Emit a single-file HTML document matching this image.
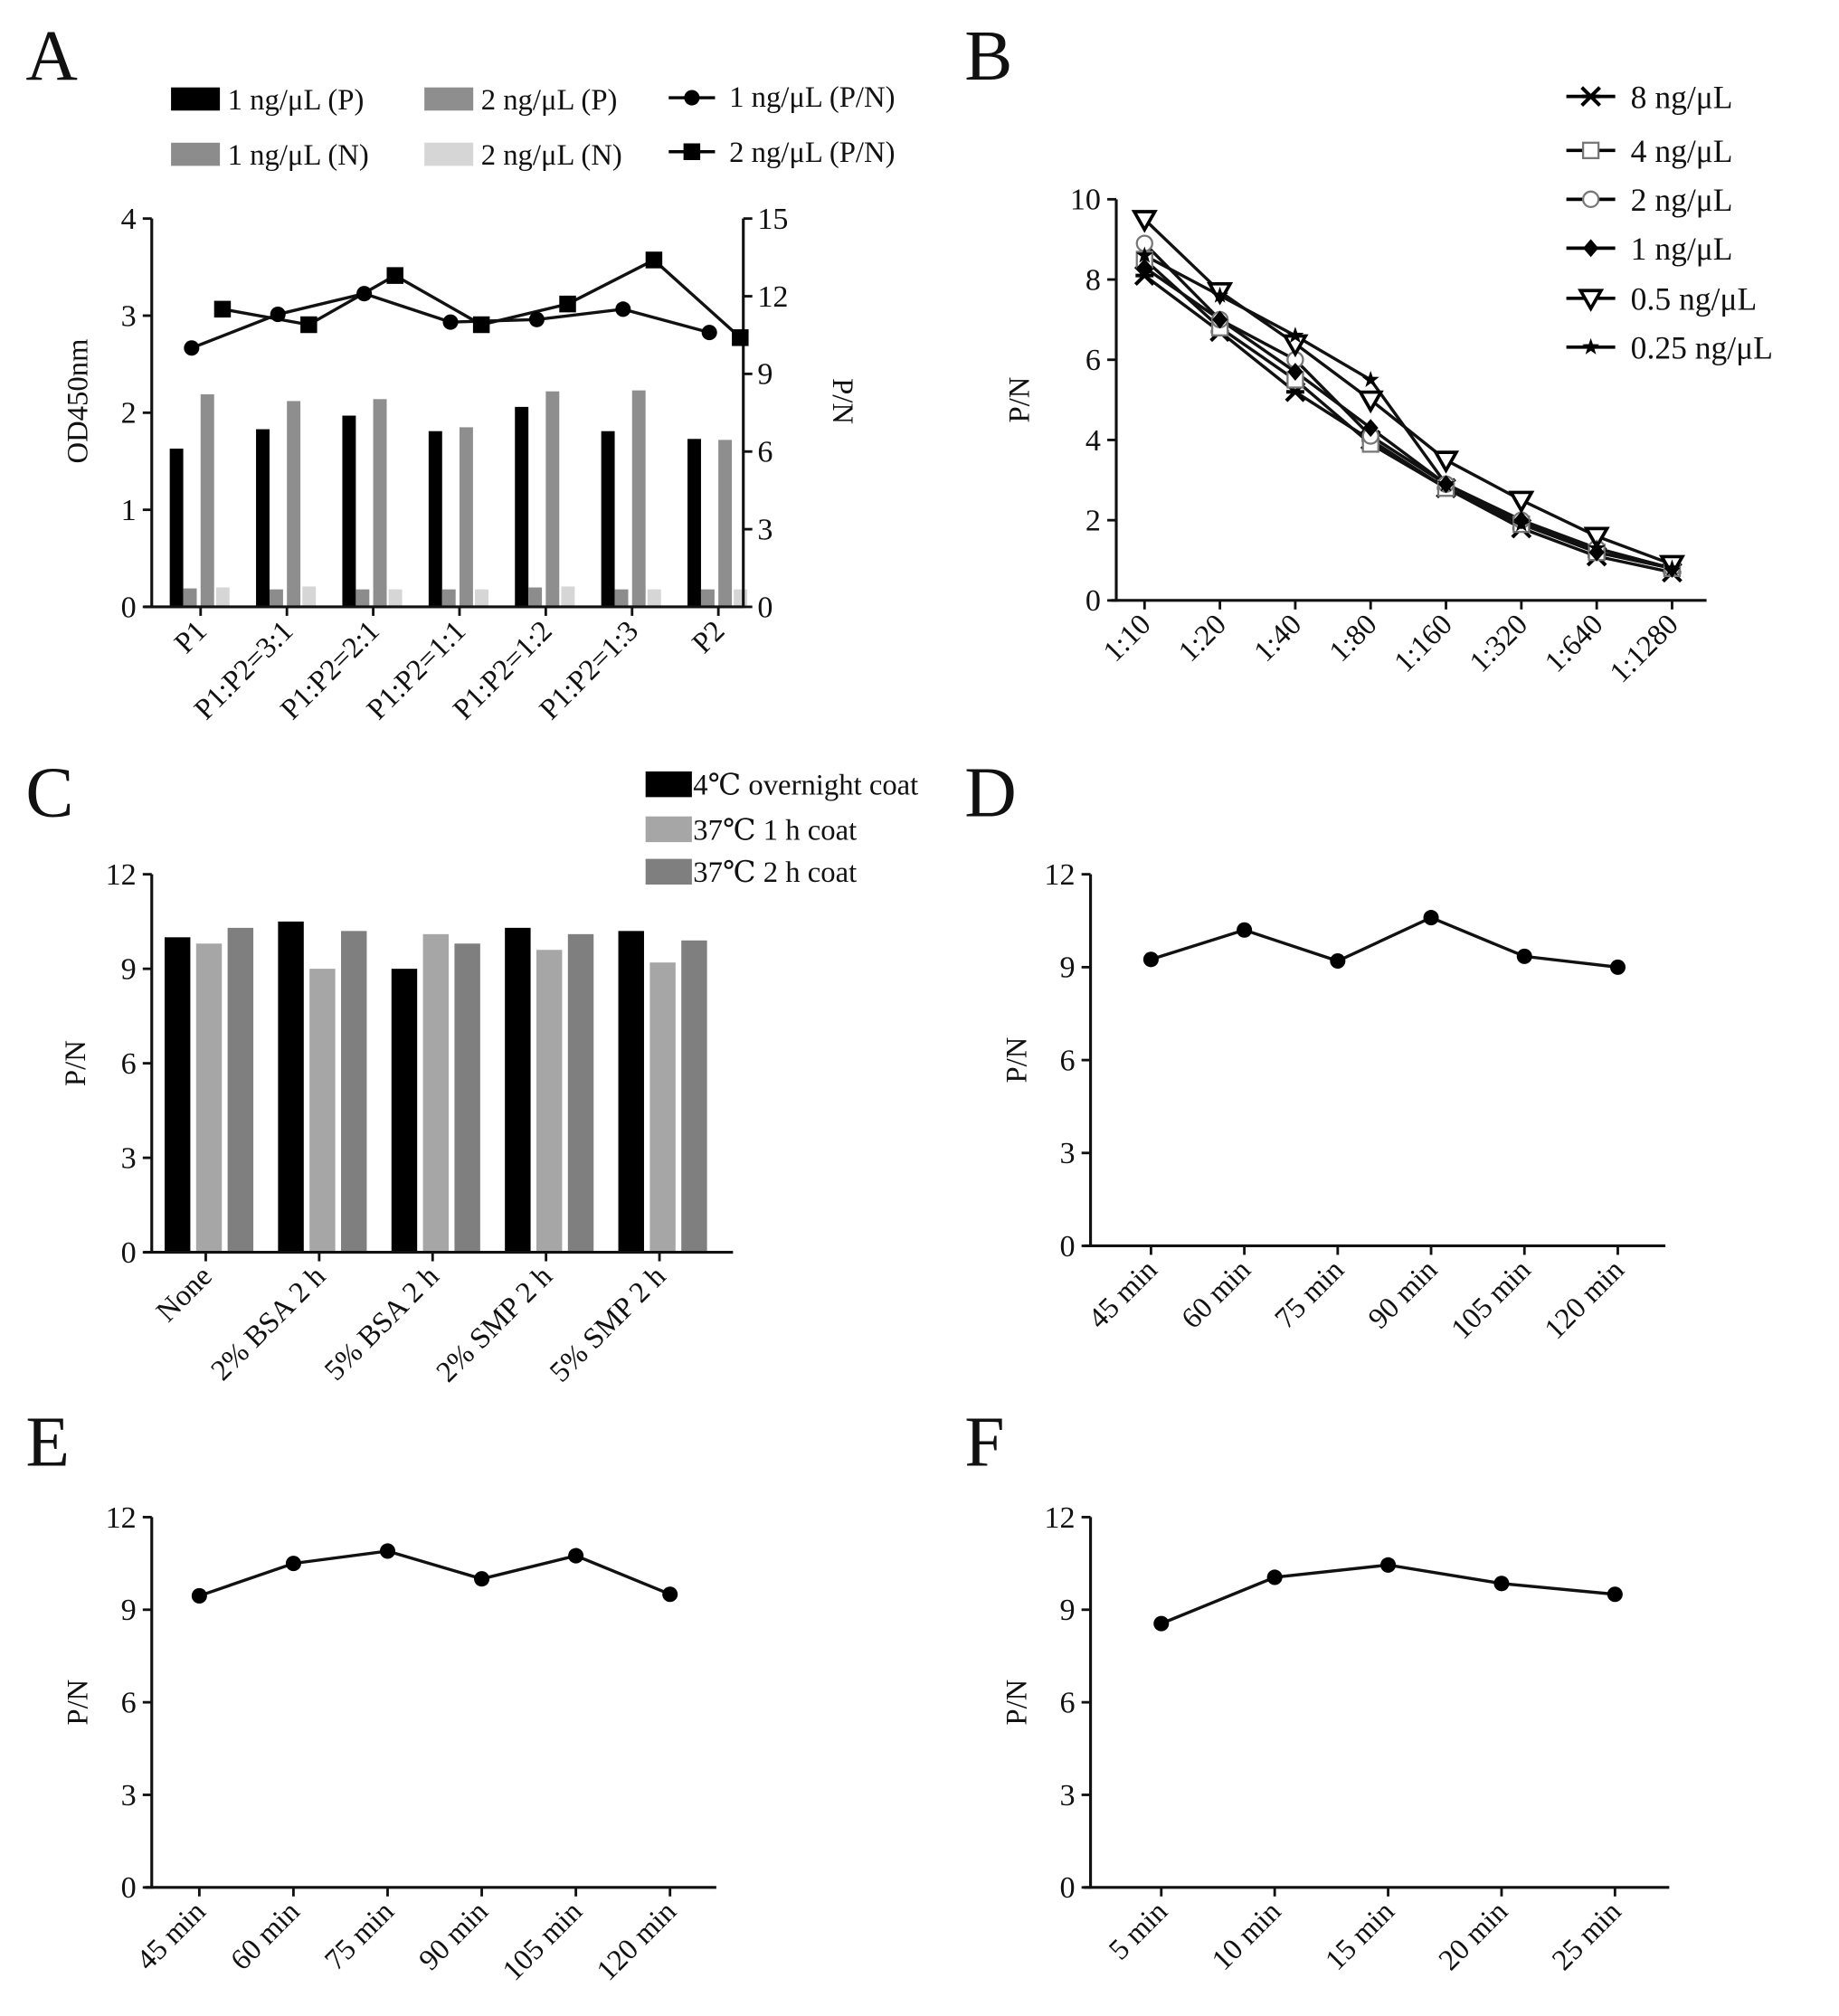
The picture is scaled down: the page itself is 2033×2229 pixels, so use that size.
<!DOCTYPE html>
<html><head><meta charset="utf-8"><style>
html,body{margin:0;padding:0;background:#fff}
svg{display:block}
text{font-family:"Liberation Serif","DejaVu Serif",serif;fill:#111}
</style></head><body>
<svg id="fig" xmlns="http://www.w3.org/2000/svg" width="2033" height="2229" viewBox="0 0 1430 1568" preserveAspectRatio="none">
<rect width="1440" height="1580" fill="#fff"/>
<g font-size="56"><text x="20" y="62">A</text>
<text x="750" y="62">B</text>
<text x="20" y="635">C</text>
<text x="750" y="635">D</text>
<text x="20" y="1140">E</text>
<text x="750" y="1140">F</text></g>
</svg>
<script>
// ---- Panel A data
const aCats=["P1","P1:P2=3:1","P1:P2=2:1","P1:P2=1:1","P1:P2=1:2","P1:P2=1:3","P2"];
const aP1=[1.63,1.83,1.97,1.81,2.06,1.81,1.73];
const aN1=[0.19,0.18,0.18,0.18,0.2,0.18,0.18];
const aP2=[2.19,2.12,2.14,1.85,2.22,2.23,1.72];
const aN2=[0.2,0.21,0.18,0.18,0.21,0.18,0.18];
const aPN1=[10.0,11.3,12.1,11.0,11.1,11.5,10.6];
const aPN2=[11.5,10.9,12.8,10.9,11.7,13.4,10.4];
const aLeftTicks=[0,1,2,3,4];
const aRightTicks=[0,3,6,9,12,15];
// ---- Panel B data
const bCats=["1:10","1:20","1:40","1:80","1:160","1:320","1:640","1:1280"];
const bNames=["8 ng/μL","4 ng/μL","2 ng/μL","1 ng/μL","0.5 ng/μL","0.25 ng/μL"];
const b8=[8.1,6.7,5.2,4.0,2.8,1.8,1.1,0.7];
const b4=[8.5,6.8,5.5,3.9,2.8,1.9,1.2,0.8];
const b2=[8.9,7.0,6.0,4.1,2.9,2.0,1.3,0.8];
const b1=[8.3,7.0,5.7,4.3,2.9,2.0,1.2,0.8];
const b05=[9.5,7.7,6.4,5.0,3.5,2.5,1.6,0.9];
const b025=[8.6,7.6,6.6,5.5,2.9,1.9,1.3,0.8];
const bTicks=[0,2,4,6,8,10];
// ---- Panel C data
const cCats=["None","2% BSA 2 h","5% BSA 2 h","2% SMP 2 h","5% SMP 2 h"];
const cNames=["4℃ overnight coat","37℃ 1 h coat","37℃ 2 h coat"];
const c4=[10.0,10.5,9.0,10.3,10.2];
const c37a=[9.8,9.0,10.1,9.6,9.2];
const c37b=[10.3,10.2,9.8,10.1,9.9];
const pnTicks=[0,3,6,9,12];
// ---- Panels D/E/F data
const dCats=["45 min","60 min","75 min","90 min","105 min","120 min"];
const dVals=[9.25,10.2,9.2,10.6,9.35,9.0];
const eCats=["45 min","60 min","75 min","90 min","105 min","120 min"];
const eVals=[9.45,10.5,10.9,10.0,10.75,9.5];
const fCats=["5 min","10 min","15 min","20 min","25 min"];
const fVals=[8.55,10.05,10.45,9.85,9.5];

const NS="http://www.w3.org/2000/svg";
const svg=document.getElementById('fig');
function mk(tag,attrs,name,parent,txt){
  const e=document.createElementNS(NS,tag);
  for(const k in attrs)e.setAttribute(k,attrs[k]);
  
  
  if(txt!==undefined)e.textContent=txt;
  (parent||svg).appendChild(e);return e;
}
function lin(d0,d1,r0,r1){return v=>r0+(v-d0)/(d1-d0)*(r1-r0);}
function yAxis(x,y0,y1,ticks,sc,pre,right){
  mk('line',{x1:x,y1:y0+1,x2:x,y2:y1,stroke:'#111','stroke-width':2.2},pre+'-axis-line');
  ticks.forEach(t=>{const y=sc(t);
    mk('line',{x1:right?x:x-7,y1:y,x2:right?x+7:x,y2:y,stroke:'#111','stroke-width':2},pre+'-tick');
    mk('text',{x:right?x+11:x-12,y:y+8,'font-size':24,'text-anchor':right?'start':'end'},pre+'-tick-label',null,String(t));});
}
function xAxis(x0,x1,y,cats,xs,pre){
  mk('line',{x1:x0,y1:y,x2:x1,y2:y,stroke:'#111','stroke-width':2.2},pre+'-x-axis-line');
  cats.forEach((c,i)=>{const x=xs(i);
    mk('line',{x1:x,y1:y,x2:x,y2:y+7,stroke:'#111','stroke-width':2},pre+'-x-tick');
    mk('text',{x:0,y:0,'font-size':23,'text-anchor':'end',transform:`translate(${x+6},${y+20}) rotate(-45)`},pre+'-x-tick-label',null,c);});
}
function yTitle(x,y,t,name,rot){mk('text',{x:0,y:0,'font-size':23,'text-anchor':'middle',transform:`translate(${x},${y}) rotate(${rot||-90})`},name,null,t);}
function polyline(pts,name){mk('polyline',{points:pts.map(p=>p.join(',')).join(' '),fill:'none',stroke:'#111','stroke-width':2.4},name);}

// ===== Panel A
{const yL=lin(0,4,472,170),yR=lin(0,15,472,170),gx=i=>156+i*67.1;
 const bw=10.5,y0=yL(0);
 const series=[[aP1,-24,'#000','bar-1ng-p'],[aN1,-13.5,'#8c8c8c','bar-1ng-n'],[aP2,0,'#8e8e8e','bar-2ng-p'],[aN2,12,'#d6d6d6','bar-2ng-n']];
 series.forEach(([arr,off,col,nm])=>arr.forEach((v,i)=>mk('rect',{x:gx(i)+off,y:yL(v),width:bw,height:y0-yL(v),fill:col},nm)));
 yAxis(118,472,170,aLeftTicks,yL,'a-left');
 yAxis(578,472,170,aRightTicks,yR,'a-right',true);
 xAxis(112,578,472,aCats,gx,'a');
 const c1=aPN1.map((v,i)=>[gx(i)-7,yR(v)]),c2=aPN2.map((v,i)=>[gx(i)+17,yR(v)]);
 polyline(c1,'line-1ng-pn');polyline(c2,'line-2ng-pn');
 c1.forEach(p=>mk('circle',{cx:p[0],cy:p[1],r:6,fill:'#000'},'point-1ng-pn'));
 c2.forEach(p=>mk('rect',{x:p[0]-6.5,y:p[1]-6.5,width:13,height:13,fill:'#000'},'point-2ng-pn'));
 yTitle(68,312,'OD450nm','a-y-axis-title');
 yTitle(648,312,'P/N','a-right-axis-title',90);
 const lg=[[133,77,'#000','1 ng/μL (P)'],[330,77,'#8e8e8e','2 ng/μL (P)'],[133,120,'#8c8c8c','1 ng/μL (N)'],[330,120,'#d6d6d6','2 ng/μL (N)']];
 lg.forEach(([x,y,c,t])=>{mk('rect',{x:x,y:y-9,width:38,height:18,fill:c},'legend-swatch');mk('text',{x:x+44,y:y+8,'font-size':23},'legend-entry',null,t);});
 mk('line',{x1:520,y1:76,x2:556,y2:76,stroke:'#000','stroke-width':2.4},'legend-line');
 mk('circle',{cx:538,cy:76,r:6,fill:'#000'},'legend-marker');
 mk('text',{x:567,y:83,'font-size':23},'legend-entry',null,'1 ng/μL (P/N)');
 mk('line',{x1:520,y1:118,x2:556,y2:118,stroke:'#000','stroke-width':2.4},'legend-line');
 mk('rect',{x:531.5,y:111.5,width:13,height:13,fill:'#000'},'legend-marker');
 mk('text',{x:567,y:126,'font-size':23},'legend-entry',null,'2 ng/μL (P/N)');
}
// ===== Panel B
function marker(type,x,y,name){
  const s=7;
  if(type==='x'){mk('path',{d:`M${x-s},${y-s}L${x+s},${y+s}M${x-s},${y+s}L${x+s},${y-s}M${x-s},${y}L${x+s},${y}`,stroke:'#000','stroke-width':2.8,fill:'none'},name);}
  else if(type==='sq'){mk('rect',{x:x-6,y:y-6,width:12,height:12,fill:'#fff',stroke:'#777','stroke-width':1.6},name);}
  else if(type==='ci'){mk('circle',{cx:x,cy:y,r:6,fill:'#fff',stroke:'#777','stroke-width':1.6},name);}
  else if(type==='di'){mk('path',{d:`M${x},${y-7}L${x+6},${y}L${x},${y+7}L${x-6},${y}Z`,fill:'#000'},name);}
  else if(type==='tr'){mk('path',{d:`M${x-8},${y-6}L${x+8},${y-6}L${x},${y+8}Z`,fill:'#fff',stroke:'#000','stroke-width':2.6},name);}
  else {const pts=[];for(let k=0;k<10;k++){const r=k%2?2.8:7,a=-Math.PI/2+k*Math.PI/5;pts.push((x+r*Math.cos(a)).toFixed(1)+','+(y+r*Math.sin(a)).toFixed(1));}
    mk('polygon',{points:pts.join(' '),fill:'#000'},name);}
}
{const y=lin(0,10,467,155),gx=i=>890+i*58.6;
 yAxis(868,467,155,bTicks,y,'b');
 xAxis(864,1327,467,bCats,gx,'b');
 yTitle(800,311,'P/N','b-y-axis-title');
 const all=[b8,b4,b2,b1,b05,b025],types=['x','sq','ci','di','tr','st'];
 all.forEach((arr,si)=>{const pts=arr.map((v,i)=>[gx(i),y(v)]);polyline(pts,'b-line-'+si);});
 all.forEach((arr,si)=>arr.forEach((v,i)=>marker(types[si],gx(i),y(v),'b-point')));
 const ly=[75,117,155,193,232,270];
 bNames.forEach((n,i)=>{mk('line',{x1:1218,y1:ly[i],x2:1256,y2:ly[i],stroke:'#000','stroke-width':2.6},'legend-line');
   marker(types[i],1237,ly[i],'legend-marker');
   mk('text',{x:1268,y:ly[i]+9,'font-size':25},'legend-entry',null,n);});
}
// ===== Panel C
{const y=lin(0,12,974,680),gx=i=>162+i*88.2;
 const cols=['#000','#a6a6a6','#7f7f7f'],ser=[c4,c37a,c37b],bw=20;
 ser.forEach((arr,si)=>arr.forEach((v,i)=>mk('rect',{x:gx(i)-34+si*24.5,y:y(v),width:bw,height:974-y(v),fill:cols[si]},'c-bar-'+si)));
 yAxis(118,974,680,pnTicks,y,'c');
 xAxis(112,570,974,cCats,i=>gx(i)-2,'c');
 yTitle(66,827,'P/N','c-y-axis-title');
 const ly=[610,645,678];
 cNames.forEach((n,i)=>{mk('rect',{x:502,y:ly[i]-10,width:36,height:20,fill:cols[i]},'legend-swatch');
   mk('text',{x:539,y:ly[i]+8,'font-size':23},'legend-entry',null,n);});
}
function linePanel(ax,y0,y1,x1,cats,vals,first,step,pre){
  const y=lin(0,12,y0,y1),gx=i=>first+i*step;
  yAxis(ax,y0,y1,pnTicks,y,pre);
  xAxis(ax-5,x1,y0,cats,gx,pre);
  yTitle(ax-50,(y0+y1)/2,'P/N',pre+'-y-axis-title');
  const pts=vals.map((v,i)=>[gx(i),y(v)]);
  polyline(pts,pre+'-line');
  pts.forEach(p=>mk('circle',{cx:p[0],cy:p[1],r:6,fill:'#000'},pre+'-point'));
}
linePanel(848,969,680,1295,dCats,dVals,895,72.6,'d');
linePanel(118,1468,1180,557,eCats,eVals,155,73.2,'e');
linePanel(848,1468,1180,1298,fCats,fVals,903,88.2,'f');
</script>
</body></html>
